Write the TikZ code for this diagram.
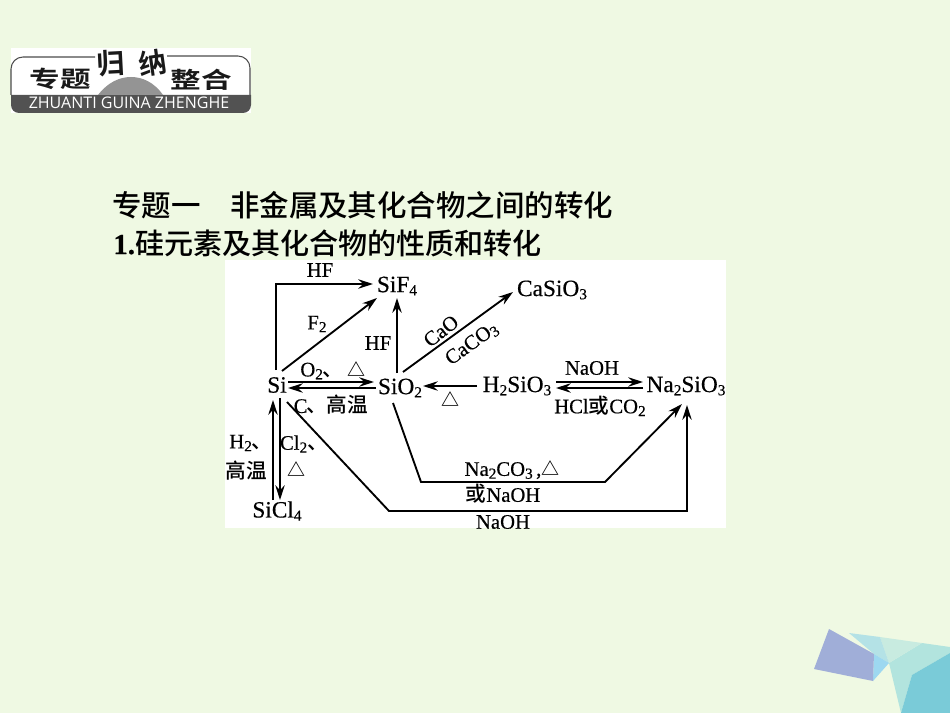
\documentclass[tikz,border=0pt]{standalone}
\usepackage{fontspec}
\setmainfont{Liberation Serif}[RawFeature={embolden=0.45}]
\newfontfamily\cjk{Noto Sans CJK SC Medium}
\newfontfamily\cjkb{Noto Sans CJK SC Bold}
\newfontfamily\capsf{Open Sans}
\usetikzlibrary{arrows.meta}
\newcommand{\dn}[1]{\raisebox{-0.3ex}{\fontsize{11.5}{11.5}\selectfont #1}}
\newcommand{\cj}[1]{{\cjk #1}}
\newcommand{\tri}{{\cjkb\fontsize{13.5}{14}\selectfont △}}
\definecolor{bgc}{HTML}{EFF9E3}
\tikzset{
  lab/.style={inner sep=0pt,font=\fontsize{15.5}{16}\selectfont,text=black},
  chem/.style={inner sep=0pt,font=\fontsize{17.5}{18}\selectfont,text=black},
  arr/.style={line width=1.4pt,draw=black,-{Stealth[length=11pt,width=7pt]}},
  head/.style={inner sep=0pt,anchor=west,font=\fontsize{22.1}{24}\selectfont,text=black},
  logo/.style={inner sep=0pt,text=black!90}
}
\begin{document}
\begin{tikzpicture}[x=0.75pt,y=-0.75pt]
\useasboundingbox (0,0) rectangle (950,713);
\fill[bgc] (0,0) rectangle (950,713);
% corner decoration
\fill[fill={rgb,255:red,178;green,228;blue,222}] (922,643)--(950,647)--(950,653)--(912,675)--(901,713)--(889,663)--cycle;
\fill[fill={rgb,255:red,122;green,203;blue,216}] (950,653)--(912,675)--(901,713)--(950,713)--cycle;
\fill[fill={rgb,255:red,200;green,235;blue,224}] (880,637)--(922,643)--(889,663)--cycle;
\fill[fill={rgb,255:red,180;green,226;blue,230}] (849,633)--(880,637)--(889,663)--(874,654)--cycle;
\fill[fill={rgb,255:red,157;green,216;blue,240}] (874,654)--(889,663)--(873,681)--cycle;
\fill[fill={rgb,255:red,160;green,174;blue,216}] (829,629)--(874,654)--(873,681)--(814,669)--cycle;
% logo
\fill[white] (11,48) rectangle (251,113);
\fill[black!68] (11,95) [rounded corners=6pt] -- (11,113) -- (251,113) [sharp corners] -- (251,95) -- cycle;
\fill[black!42] (98,95) .. controls (108,82) and (120,77) .. (131,77) .. controls (142,77) and (154,82) .. (163,95) -- cycle;
\draw[black!70,line width=0.8pt] (11,95) [rounded corners=9pt] -- (11,57) [sharp corners] -- (95,57);
\draw[black!70,line width=0.8pt] (167,56) [rounded corners=9pt] -- (250,56) [sharp corners] -- (250,95);
\node[logo] (lza) at (60,79) {\scalebox{1.35}[1]{\cjkb\fontsize{17}{18}\selectfont 专题}};
\node[logo,font={\cjkb\fontsize{21}{21}\selectfont},rotate=3] (lgui) at (111,63) {归};
\node[logo,font={\cjkb\fontsize{21}{21}\selectfont},rotate=8] (lna) at (153,63) {纳};
\node[logo] (lzh) at (201,80) {\scalebox{1.35}[1]{\cjkb\fontsize{17}{18}\selectfont 整合}};
\node[inner sep=0pt,text=white,font={\capsf\fontsize{12}{12}\selectfont}] (lcap) at (129,103) {ZHUANTI GUINA ZHENGHE};
% headings
\node[head] (h1) at (112,205) {\cjk 专题一　非金属及其化合物之间的转化};
\node[head,font=\fontsize{21.8}{24}\selectfont] (h2) at (113,243) {\textbf{1.}\cj{硅元素及其化合物的性质和转化}};
% diagram panel
\fill[white] (225,260) rectangle (726,528);
\node[chem] (si) at (277,385) {Si};
\node[chem] (sif4) at (397,286) {SiF\dn{4}};
\node[chem] (sio2) at (400,388) {SiO\dn{2}};
\node[chem] (sicl4) at (277,511) {SiCl\dn{4}};
\node[chem] (casio3) at (552,290) {CaSiO\dn{3}};
\node[chem] (h2sio3) at (517,386) {H\dn{2}SiO\dn{3}};
\node[chem] (na2sio3) at (686,386) {Na\dn{2}SiO\dn{3}};
\coordinate (k1) at (421,482);
\coordinate (k2) at (605,482);
\coordinate (k3) at (389,511);
% connectors
\draw[arr] ([shift={(-1,-15)}]si.center) |- ([shift={(-24,-2)}]sif4.center);
\draw[arr] ([shift={(5,-14)}]si.center) -- ([shift={(-20,12)}]sif4.center);
\draw[arr] ([shift={(11,-3)}]si.center) -- ([shift={(-26,-6)}]sio2.center);
\draw[arr] ([shift={(-24,0)}]sio2.center) -- ([shift={(11,3)}]si.center);
\draw[arr] ([shift={(-3,-15)}]sio2.center) -- ([shift={(0,12)}]sif4.center);
\draw[arr] ([shift={(3,-16)}]sio2.center) -- ([shift={(-39,2)}]casio3.center);
\draw[arr] ([shift={(-40,0)}]h2sio3.center) -- ([shift={(23,-2)}]sio2.center);
\draw[arr] ([shift={(39,-4)}]h2sio3.center) -- ([shift={(-43,-4)}]na2sio3.center);
\draw[arr] ([shift={(-43,2)}]na2sio3.center) -- ([shift={(39,2)}]h2sio3.center);
\draw[arr] ([shift={(-7,15)}]sio2.center) -- (k1) -- (k2) -- ([shift={(-4,18)}]na2sio3.center);
\draw[arr] ([shift={(10,17)}]si.center) -- (k3) -| ([shift={(1,19)}]na2sio3.center);
\draw[arr] ([shift={(-4,-11)}]sicl4.center) -- ([shift={(-4,15)}]si.center);
\draw[arr] ([shift={(3,13)}]si.center) -- ([shift={(3,-11)}]sicl4.center);
% labels
\node[lab] (l1) at (320,270) {HF};
\node[lab] (l2) at (317,324) {F\dn{2}};
\node[lab] (l3) at (378,343) {HF};
\node[lab,rotate=38] (l4) at (441,331) {CaO};
\node[lab,rotate=36] (l5) at (472,344) {CaCO\dn{3}};
\node[lab] (l6) at (322,371) {O\dn{2}\cj{、}};
\node[lab] (l7) at (356,369) {\tri};
\node[lab] (l8) at (331,405) {C\hspace{-1pt}\cj{、高温}};
\node[lab] (l9) at (450,399) {\tri};
\node[lab] (l10) at (592,368) {NaOH};
\node[lab] (l11) at (600,406) {HCl\cj{或}CO\dn{2}};
\node[lab] (l12) at (512,470) {Na\dn{2}CO\dn{3}\,,\tri};
\node[lab] (l13) at (503,494) {\cj{或}NaOH};
\node[lab] (l14) at (503,522) {NaOH};
\node[lab] (l15) at (251,443) {H\dn{2}\cj{、}};
\node[lab] (l16) at (246,471) {\cj{高温}};
\node[lab] (l17) at (304,444) {Cl\dn{2}\cj{、}};
\node[lab] (l18) at (296,469) {\tri};
\end{tikzpicture}
\end{document}
